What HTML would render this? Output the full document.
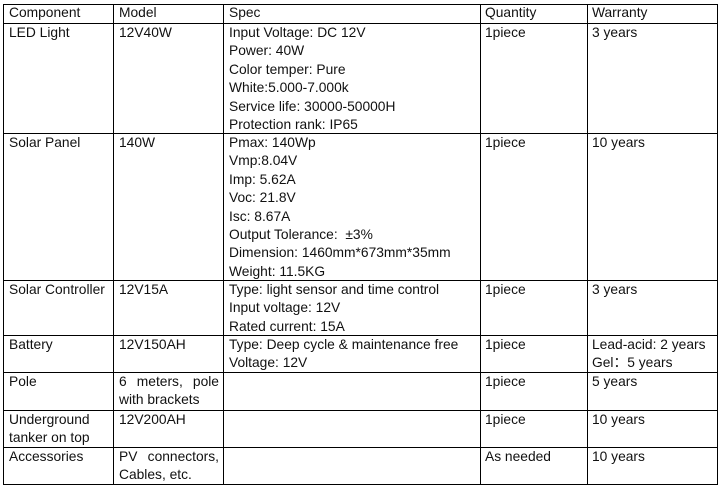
<!DOCTYPE html>
<html><head><meta charset="utf-8"><style>
body{margin:0;width:724px;height:488px;background:#fff;position:relative;overflow:hidden;font-family:"Liberation Sans",Arial,sans-serif;font-size:13.8px;color:#111}
.h{position:absolute;height:1px;background:#000;left:3px;width:715px}
.v{position:absolute;width:1px;background:#000;top:4px;height:481px}
.c{position:absolute;line-height:18.4px;white-space:nowrap}
.j{white-space:normal;text-align:justify;text-align-last:left;width:100px}
</style></head><body>
<div class="h" style="top:4px"></div><div class="h" style="top:23px"></div><div class="h" style="top:133px"></div><div class="h" style="top:280px"></div><div class="h" style="top:335px"></div><div class="h" style="top:372px"></div><div class="h" style="top:410px"></div><div class="h" style="top:447px"></div><div class="h" style="top:484px"></div>
<div class="v" style="left:3px"></div><div class="v" style="left:113px"></div><div class="v" style="left:223px"></div><div class="v" style="left:480px"></div><div class="v" style="left:587px"></div><div class="v" style="left:717px"></div>

<div class="c" style="left:9px;top:4px">Component</div>
<div class="c" style="left:119px;top:4px">Model</div>
<div class="c" style="left:229px;top:4px">Spec</div>
<div class="c" style="left:485px;top:4px">Quantity</div>
<div class="c" style="left:592px;top:4px">Warranty</div>

<div class="c" style="left:9px;top:24px">LED Light</div>
<div class="c" style="left:119px;top:24px">12V40W</div>
<div class="c" style="left:229px;top:24px">Input Voltage: DC 12V<br>Power: 40W<br>Color temper: Pure<br>White:5.000-7.000k<br>Service life: 30000-50000H<br>Protection rank: IP65</div>
<div class="c" style="left:485px;top:24px">1piece</div>
<div class="c" style="left:592px;top:24px">3 years</div>

<div class="c" style="left:9px;top:134px">Solar Panel</div>
<div class="c" style="left:119px;top:134px">140W</div>
<div class="c" style="left:229px;top:134px">Pmax: 140Wp<br>Vmp:8.04V<br>Imp: 5.62A<br>Voc: 21.8V<br>Isc: 8.67A<br>Output Tolerance: &nbsp;±3%<br>Dimension: 1460mm*673mm*35mm<br>Weight: 11.5KG</div>
<div class="c" style="left:485px;top:134px">1piece</div>
<div class="c" style="left:592px;top:134px">10 years</div>

<div class="c" style="left:9px;top:281px">Solar Controller</div>
<div class="c" style="left:119px;top:281px">12V15A</div>
<div class="c" style="left:229px;top:281px">Type: light sensor and time control<br>Input voltage: 12V<br>Rated current: 15A</div>
<div class="c" style="left:485px;top:281px">1piece</div>
<div class="c" style="left:592px;top:281px">3 years</div>

<div class="c" style="left:9px;top:336px">Battery</div>
<div class="c" style="left:119px;top:336px">12V150AH</div>
<div class="c" style="left:229px;top:336px">Type: Deep cycle &amp; maintenance free<br>Voltage: 12V</div>
<div class="c" style="left:485px;top:336px">1piece</div>
<div class="c" style="left:592px;top:336px">Lead-acid: 2 years<br>Gel：5 years</div>

<div class="c" style="left:9px;top:373px">Pole</div>
<div class="c j" style="left:119px;top:373px">6 meters, pole with brackets</div>
<div class="c" style="left:485px;top:373px">1piece</div>
<div class="c" style="left:592px;top:373px">5 years</div>

<div class="c" style="left:9px;top:411px">Underground<br>tanker on top</div>
<div class="c" style="left:119px;top:411px">12V200AH</div>
<div class="c" style="left:485px;top:411px">1piece</div>
<div class="c" style="left:592px;top:411px">10 years</div>

<div class="c" style="left:9px;top:448px">Accessories</div>
<div class="c j" style="left:119px;top:448px">PV connectors, Cables, etc.</div>
<div class="c" style="left:485px;top:448px">As needed</div>
<div class="c" style="left:592px;top:448px">10 years</div>
</body></html>
